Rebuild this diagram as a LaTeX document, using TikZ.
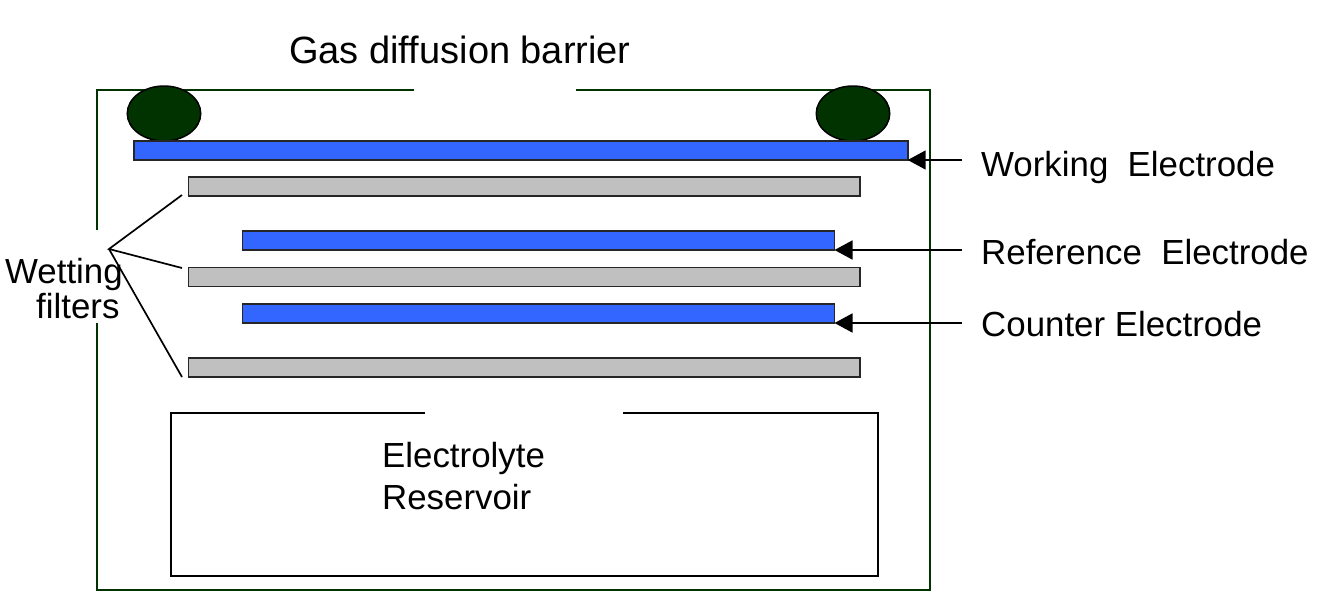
\documentclass[tikz,border=0pt]{standalone}
\usepackage{fontspec}
\setmainfont{Liberation Sans}
\usetikzlibrary{arrows.meta,shapes.geometric}
\definecolor{dgreen}{HTML}{003300}
\definecolor{eblue}{HTML}{3366FF}
\definecolor{fgray}{HTML}{C0C0C0}
\tikzset{
 x=1pt,y=-1pt,
 wall/.style={draw=dgreen,line width=2pt},
 res/.style={draw=black,line width=2pt},
 plate/.style={draw=black!85,line width=1.8pt,inner sep=0pt,outer sep=0pt,anchor=north west},
 blueplate/.style={plate,fill=eblue},
 grayplate/.style={plate,fill=fgray},
 oring/.style={draw=black,line width=1.5pt,fill=dgreen,ellipse,inner sep=0pt,minimum width=73.5pt,minimum height=55pt},
 lbl/.style={font=\fontsize{34.85}{38}\selectfont,anchor=base west,inner sep=0pt},
 biglbl/.style={font=\fontsize{38}{40}\selectfont,anchor=base west,inner sep=0pt},
 lead/.style={draw=black,line width=1.7pt},
 arrow/.style={lead,-{Triangle[length=18pt,width=19pt]}}
}
\begin{document}
\begin{tikzpicture}
\useasboundingbox (0,0) rectangle (1322,611);
\draw[wall] (414,90) -- (97,90) -- (97,230) (97,323) -- (97,590) -- (930,590) -- (930,90) -- (576,90);
\draw[res] (425,412.6) -- (170.6,412.6) -- (170.6,575.6) -- (877.6,575.6) -- (877.6,412.6) -- (623,412.6);
\node[oring] (o1) at (164,113.5) {};
\node[oring] (o2) at (853,113.5) {};
\node[blueplate,minimum width=774pt,minimum height=19pt] (we) at (133.7,141) {};
\node[grayplate,minimum width=671.5pt,minimum height=19pt] (f1) at (188.5,177) {};
\node[blueplate,minimum width=592pt,minimum height=19pt] (re) at (242.5,231) {};
\node[grayplate,minimum width=671.5pt,minimum height=19pt] (f2) at (188.5,267.5) {};
\node[blueplate,minimum width=592pt,minimum height=19pt] (ce) at (242.5,304) {};
\node[grayplate,minimum width=671.5pt,minimum height=19pt] (f3) at (188.5,358) {};
\node[biglbl] (t1) at (289,63) {Gas diffusion barrier};
\node[lbl] (t2) at (981,176) {Working\ \ Electrode};
\node[lbl] (t3) at (981,264) {Reference\ \ Electrode};
\node[lbl] (t4) at (981,336) {Counter Electrode};
\node[lbl] (t5) at (5,283) {Wetting};
\node[lbl] (t6) at (36,318) {filters};
\node[lbl] (t7) at (382,467) {Electrolyte};
\node[lbl] (t8) at (382,509) {Reservoir};
\coordinate (w) at (109,249);
\coordinate (e1) at (182,195);
\coordinate (e2) at (182,268);
\coordinate (e3) at (182,377);
\coordinate (a1) at (962,160);
\coordinate (a2) at (962,250);
\coordinate (a3) at (962,323);
\draw[lead] (e1) -- (w) -- (e2);
\draw[lead] (w) -- (e3);
\draw[arrow] (a1) -- (we.south east);
\draw[arrow] (a2) -- (re.south east);
\draw[arrow] (a3) -- (ce.south east);
\end{tikzpicture}
\end{document}
